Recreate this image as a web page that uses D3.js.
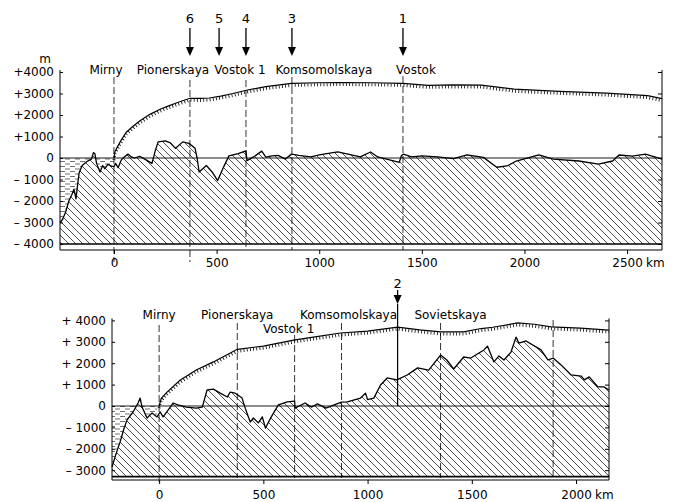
<!DOCTYPE html>
<html>
<head>
<meta charset="utf-8">
<script src="https://cdn.jsdelivr.net/npm/d3@7"></script>
<style>
  body { margin: 0; background: #fff; }
  text { font-family: "DejaVu Sans", sans-serif; fill: #000; }
</style>
</head>
<body>
<svg id="chart" width="679" height="502"></svg>
<script>
// ---- data: [km from Mirny, metres] ----
const topSurface = [[0,0],[5,300],[30,750],[60,1200],[90,1450],[125,1720],[175,2030],[225,2270],[260,2400],
  [310,2580],[370,2780],[420,2770],[465,2790],[520,2880],[580,3000],[645,3150],[740,3320],[865,3470],
  [1000,3500],[1100,3510],[1250,3500],[1408,3470],[1530,3380],[1650,3400],[1790,3390],[1950,3200],
  [2170,3100],[2400,3020],[2500,2960],[2600,2900],[2670,2760]];

const topBed = [[-263,-3000],[-250,-2850],[-235,-2500],[-220,-2000],[-205,-1700],[-195,-1450],[-185,-1900],
  [-178,-1300],[-170,-700],[-155,-350],[-130,-150],[-110,-50],[-100,250],[-93,200],[-85,-250],[-68,-650],
  [-55,-350],[-45,-500],[-30,-300],[-12,-380],[0,-400],[8,-250],[20,-450],[35,-100],[50,50],[68,180],
  [85,50],[100,0],[125,80],[150,-50],[185,-250],[200,300],[215,750],[250,800],[275,700],[300,450],
  [335,750],[365,680],[395,450],[405,0],[415,-650],[450,-350],[478,-650],[505,-1050],[535,-400],
  [560,100],[605,200],[643,330],[648,-120],[680,50],[720,320],[740,40],[770,100],[800,120],[835,-50],
  [865,180],[900,120],[960,50],[1000,150],[1090,280],[1140,180],[1200,50],[1250,280],[1285,50],
  [1390,-200],[1400,100],[1410,180],[1450,50],[1500,100],[1575,50],[1655,-30],[1720,140],[1800,30],
  [1865,-430],[1915,-370],[1960,-140],[2070,140],[2140,-50],[2265,-140],[2360,-280],[2430,-140],
  [2460,140],[2525,90],[2590,180],[2670,-50]];

const bottomSurface = [[0,0],[10,350],[38,650],[100,1200],[178,1680],[260,2060],[375,2650],[500,2800],
  [645,3080],[740,3220],[870,3410],[1000,3500],[1144,3690],[1250,3560],[1350,3460],[1460,3460],
  [1545,3620],[1600,3680],[1720,3880],[1800,3820],[1880,3700],[2020,3640],[2158,3550]];

const bottomBed = [[-226,-2850],[-212,-2400],[-195,-1900],[-188,-1700],[-180,-1450],[-170,-1100],
  [-154,-650],[-125,-280],[-101,140],[-91,370],[-82,-50],[-58,-560],[-34,-330],[-10,-510],[5,-280],
  [19,-510],[43,-190],[67,140],[90,50],[130,-50],[178,-100],[207,-50],[230,750],[260,790],[293,600],
  [327,420],[341,650],[365,600],[398,370],[413,-100],[437,-750],[452,-560],[476,-790],[495,-510],
  [510,-1030],[538,-510],[572,50],[615,190],[650,230],[652,-100],[700,140],[730,-50],[760,100],
  [800,-100],[840,50],[875,180],[903,190],[966,370],[990,600],[1000,300],[1030,370],[1062,980],
  [1094,1310],[1140,1220],[1190,1450],[1240,1780],[1293,1680],[1350,2380],[1380,2150],[1413,1730],
  [1461,2290],[1495,2240],[1558,2620],[1575,2800],[1606,2060],[1630,2340],[1654,2150],[1688,2520],
  [1712,3220],[1726,2940],[1760,3040],[1832,2620],[1865,2150],[1890,2240],[1928,1920],[1976,1450],
  [2024,1400],[2040,1220],[2063,1360],[2105,890],[2135,890],[2158,750]];

const topStations = ["Mirny", "Pionerskaya", "Vostok 1", "Komsomolskaya", "Vostok"];
const topStationKm = [0, 370, 643, 867, 1408];
const topArrows = ["6", "5", "4", "3", "1"];
const topArrowKm = [370, 512, 643, 867, 1408];

const bottomStations = ["Mirny", "Pionerskaya", "Vostok 1", "Komsomolskaya", "Sovietskaya", ""];
const bottomStationKm = [0, 375, 650, 875, 1350, 1890];
const bottomArrows = ["2"];
const bottomArrowKm = [1144];

const topYTicks = [4000, 3000, 2000, 1000, 0, -1000, -2000, -3000, -4000];
const topYLabels = ["+4000", "+3000", "+2000", "+1000", "0", "– 1000", "– 2000", "– 3000", "– 4000"];
const bottomYTicks = [4000, 3000, 2000, 1000, 0, -1000, -2000, -3000];
const bottomYLabels = ["+ 4000", "+ 3000", "+ 2000", "+ 1000", "0", "– 1000", "– 2000", "– 3000"];
const topXTicks = [0, 500, 1000, 1500, 2000, 2500];
const bottomXTicks = [0, 500, 1000, 1500, 2000];

// ---- drawing ----
const svg = d3.select("#chart");
const defs = svg.append("defs");

defs.append("pattern")
  .attr("id", "hatch")
  .attr("patternUnits", "userSpaceOnUse")
  .attr("width", 7).attr("height", 7)
  .append("path")
  .attr("d", "M-1,-1 L8,8 M-1,6 L1,8 M6,-1 L8,1")
  .attr("stroke", "#222").attr("stroke-width", 0.8);

defs.append("pattern")
  .attr("id", "water")
  .attr("patternUnits", "userSpaceOnUse")
  .attr("width", 10).attr("height", 5)
  .append("path")
  .attr("d", "M0,1.5 H5 M5,4 H10")
  .attr("stroke", "#333").attr("stroke-width", 0.7);

function drawPanel(p) {
  const g = svg.append("g");
  const x = d3.scaleLinear().domain(p.xDomain).range(p.xRange);
  const y = d3.scaleLinear().domain(p.yDomain).range(p.yRange);
  const [x0, x1] = p.xRange;

  // sea water left of Mirny
  const water = p.bed.filter(d => d[0] <= 0);
  g.append("path")
    .datum(water)
    .attr("fill", "url(#water)")
    .attr("d", d3.area().x(d => x(d[0])).y0(y(0)).y1(d => y(Math.min(d[1], 0))));

  // bedrock hatch
  g.append("path")
    .datum(p.bed)
    .attr("fill", "url(#hatch)")
    .attr("d", d3.area().x(d => x(d[0])).y0(y(p.floor)).y1(d => y(d[1])));

  const line = d3.line().x(d => x(d[0])).y(d => y(d[1]));

  // sea level
  g.append("line")
    .attr("x1", x0).attr("x2", x1)
    .attr("y1", y(0)).attr("y2", y(0))
    .attr("stroke", "#000").attr("stroke-width", 0.9);

  // station lines
  p.stationKm.forEach((km, i) => {
    g.append("line")
      .attr("x1", x(km)).attr("x2", x(km))
      .attr("y1", p.stationLineTop[i]).attr("y2", p.stationLineBottom[i])
      .attr("stroke", "#000").attr("stroke-width", 0.8)
      .attr("stroke-dasharray", "7,3");
    g.append("text")
      .attr("x", x(km) + p.labelDx[i]).attr("y", p.labelY[i])
      .attr("text-anchor", "middle")
      .style("font-size", "12px")
      .text(p.stations[i]);
  });

  // bedrock line
  g.append("path")
    .datum(p.bed)
    .attr("fill", "none").attr("stroke", "#000").attr("stroke-width", 1.3)
    .attr("stroke-linejoin", "round")
    .attr("d", line);

  // ice surface with hanging ticks
  g.append("path")
    .datum(p.surface)
    .attr("fill", "none").attr("stroke", "#000").attr("stroke-width", 1.2)
    .attr("d", line);
  g.append("path")
    .datum(p.surface)
    .attr("fill", "none").attr("stroke", "#000").attr("stroke-width", 3)
    .attr("stroke-dasharray", "0.8,2.4")
    .attr("transform", "translate(0,2)")
    .attr("d", line);

  // floor line and axis line
  g.append("line")
    .attr("x1", x0).attr("x2", x1)
    .attr("y1", y(p.floor)).attr("y2", y(p.floor))
    .attr("stroke", "#000").attr("stroke-width", 1.6);
  g.append("line")
    .attr("x1", x0).attr("x2", x1)
    .attr("y1", p.axisY).attr("y2", p.axisY)
    .attr("stroke", "#000").attr("stroke-width", 1);

  // left axis
  g.append("line")
    .attr("x1", x0).attr("x2", x0)
    .attr("y1", y(p.yTicks[0]) - 2).attr("y2", p.axisY)
    .attr("stroke", "#000").attr("stroke-width", 1);
  const yAxis = g.append("g")
    .attr("transform", "translate(" + x0 + ",0)")
    .call(d3.axisLeft(y).tickValues(p.yTicks).tickSizeInner(-3).tickSizeOuter(0).tickPadding(6)
      .tickFormat((d, i) => p.yLabels[i]));
  yAxis.select(".domain").remove();
  yAxis.selectAll("text").style("font-size", "12px").attr("font-family", null);

  // right axis
  g.append("line")
    .attr("x1", x1).attr("x2", x1)
    .attr("y1", y(p.yTicks[0]) - 2).attr("y2", p.axisY)
    .attr("stroke", "#000").attr("stroke-width", 1);
  const rAxis = g.append("g")
    .attr("transform", "translate(" + x1 + ",0)")
    .call(d3.axisRight(y).tickValues(p.yTicks).tickSizeInner(-4).tickSizeOuter(0).tickFormat(""));
  rAxis.select(".domain").remove();

  // x axis
  const xAxis = g.append("g")
    .attr("transform", "translate(0," + p.axisY + ")")
    .call(d3.axisBottom(x).tickValues(p.xTicks).tickSize(4).tickPadding(p.xPad)
      .tickFormat(d3.format("d")));
  xAxis.select(".domain").remove();
  xAxis.selectAll("text").style("font-size", "12px").attr("font-family", null);
  const last = p.xTicks[p.xTicks.length - 1];
  g.append("text")
    .attr("x", x(last) + 19).attr("y", p.axisY + 4 + p.xPad)
    .attr("dy", "0.71em")
    .style("font-size", "12px")
    .text("km");

  // arrows
  p.arrowKm.forEach((km, i) => {
    const ax = x(km);
    g.append("text")
      .attr("x", ax).attr("y", p.arrowTextY)
      .attr("text-anchor", "middle")
      .style("font-size", "13px")
      .text(p.arrows[i]);
    g.append("line")
      .attr("x1", ax).attr("x2", ax)
      .attr("y1", p.arrowTop).attr("y2", p.arrowTip - 6)
      .attr("stroke", "#000").attr("stroke-width", 1.3);
    g.append("path")
      .attr("d", "M" + (ax - 4) + "," + (p.arrowTip - 9) + " L" + (ax + 4) + "," + (p.arrowTip - 9) +
        " L" + ax + "," + p.arrowTip + " Z")
      .attr("fill", "#000");
    if (p.arrowDrop) {
      g.append("line")
        .attr("x1", ax).attr("x2", ax)
        .attr("y1", p.arrowTip).attr("y2", y(0))
        .attr("stroke", "#000").attr("stroke-width", 1.2);
    }
  });

  if (p.unit) {
    g.append("text")
      .attr("x", x0 - 15).attr("y", y(p.yTicks[0]) - 9)
      .attr("text-anchor", "middle")
      .style("font-size", "12px")
      .text(p.unit);
  }
}

drawPanel({
  xDomain: [-263, 2670], xRange: [60, 662],
  yDomain: [-4000, 4000], yRange: [244, 72],
  floor: -4000, axisY: 250, xPad: 4,
  surface: topSurface, bed: topBed,
  stations: topStations, stationKm: topStationKm,
  stationLineTop: [77, 80, 80, 77, 76],
  stationLineBottom: [262, 262, 250, 250, 250],
  labelDx: [-8, -17, -6, 32, 13],
  labelY: [74, 74, 74, 74, 74],
  yTicks: topYTicks, yLabels: topYLabels, xTicks: topXTicks,
  arrows: topArrows, arrowKm: topArrowKm,
  arrowTextY: 23, arrowTop: 28, arrowTip: 56, arrowDrop: false,
  unit: "m"
});

drawPanel({
  xDomain: [-226, 2158], xRange: [112, 609],
  yDomain: [-3000, 4000], yRange: [470.2, 320.4],
  floor: -3300, axisY: 480, xPad: 6,
  surface: bottomSurface, bed: bottomBed,
  stations: bottomStations, stationKm: bottomStationKm,
  stationLineTop: [325, 323, 335, 323, 323, 320],
  stationLineBottom: [485, 478, 478, 478, 478, 478],
  labelDx: [0, 0, -6, 7, 10, 0],
  labelY: [319, 319, 333, 319, 319, 319],
  yTicks: bottomYTicks, yLabels: bottomYLabels, xTicks: bottomXTicks,
  arrows: bottomArrows, arrowKm: bottomArrowKm,
  arrowTextY: 288, arrowTop: 290, arrowTip: 304, arrowDrop: true,
  unit: null
});
</script>
</body>
</html>
